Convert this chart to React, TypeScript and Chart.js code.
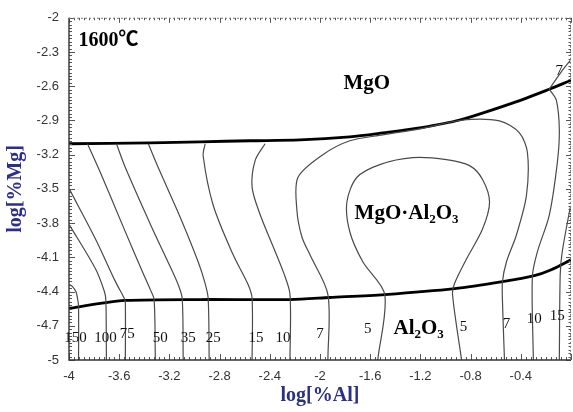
import React, { useEffect, useRef } from 'react';
import { Chart, registerables } from 'chart.js';

Chart.register(...registerables);

type Pt = [number, number];

// Axis ticks
const xTicks = [-4, -3.6, -3.2, -2.8, -2.4, -2, -1.6, -1.2, -0.8, -0.4];
const yTicks = [-5, -4.7, -4.4, -4.1, -3.8, -3.5, -3.2, -2.9, -2.6, -2.3, -2];

// Phase boundaries (thick lines)
const mgoSpinelBoundary: Pt[] = [
  [-4, -3.104], [-3.35, -3.096], [-2.955, -3.087], [-2.557, -3.078], [-2.16, -3.07],
  [-1.762, -3.043], [-1.5, -3.009], [-1.206, -2.965], [-0.888, -2.896], [-0.467, -2.748],
  [-0.173, -2.626], [0, -2.548],
];
const spinelAluminaBoundary: Pt[] = [
  [-4, -4.548], [-3.75, -4.504], [-3.551, -4.478], [-2.955, -4.47], [-2.239, -4.47],
  [-1.921, -4.452], [-1.484, -4.426], [-0.928, -4.374], [-0.546, -4.313], [-0.292, -4.261],
  [-0.157, -4.209], [0, -4.122],
];

// Iso-lines (thin lines)
const iso150: Pt[] = [[-3.996, -4.339], [-3.972, -4.357], [-3.945, -4.4], [-3.932, -4.461], [-3.924, -4.53], [-3.924, -5]];
const iso100: Pt[] = [[-3.996, -3.817], [-3.789, -4.2], [-3.718, -4.4], [-3.706, -4.48], [-3.702, -5]];
const iso75: Pt[] = [[-3.996, -3.504], [-3.789, -3.939], [-3.63, -4.313], [-3.559, -4.461], [-3.551, -4.49], [-3.551, -5]];
const iso50: Pt[] = [[-3.853, -3.104], [-3.75, -3.357], [-3.567, -3.835], [-3.408, -4.243], [-3.352, -4.383], [-3.322, -4.47], [-3.312, -5]];
const iso35: Pt[] = [[-3.622, -3.104], [-3.551, -3.313], [-3.352, -3.809], [-3.193, -4.183], [-3.13, -4.339], [-3.098, -4.461], [-3.09, -5]];
const iso25: Pt[] = [[-3.368, -3.104], [-3.289, -3.313], [-3.114, -3.748], [-2.971, -4.139], [-2.915, -4.33], [-2.891, -4.461], [-2.883, -5]];
const iso15: Pt[] = [[-2.915, -3.104], [-2.931, -3.209], [-2.851, -3.643], [-2.692, -4.078], [-2.573, -4.339], [-2.541, -4.461], [-2.541, -5]];
const iso10: Pt[] = [[-2.438, -3.104], [-2.517, -3.252], [-2.541, -3.487], [-2.478, -3.722], [-2.382, -3.983], [-2.287, -4.243], [-2.239, -4.426], [-2.239, -5]];
const iso7: Pt[] = [
  [-1.937, -5], [-1.937, -4.426], [-2.08, -4.078], [-2.144, -3.922], [-2.184, -3.687], [-2.176, -3.4],
  [-1.977, -3.2], [-1.762, -3.078], [-1.5, -3.026], [-1.206, -2.974], [-0.864, -2.896], [-0.57, -2.904],
  [-0.411, -3.009], [-0.347, -3.183], [-0.355, -3.557], [-0.435, -3.904], [-0.514, -4.139], [-0.546, -4.313],
  [-0.546, -4.487], [-0.53, -5],
];
const iso5: Pt[] = [
  [-1.54, -5], [-1.484, -4.426], [-1.659, -4.139], [-1.762, -3.878], [-1.786, -3.617], [-1.707, -3.4],
  [-1.524, -3.287], [-1.261, -3.226], [-0.992, -3.243], [-0.808, -3.296], [-0.705, -3.417], [-0.649, -3.617],
  [-0.705, -3.852], [-0.832, -4.113], [-0.928, -4.33], [-0.944, -4.426], [-0.872, -5],
];
const iso10Right: Pt[] = [[-0.173, -2.626], [-0.117, -2.722], [-0.093, -2.983], [-0.109, -3.27], [-0.173, -3.73], [-0.268, -4.052], [-0.308, -4.27], [-0.3, -5]];
const iso7Upper: Pt[] = [[-0.173, -2.626], [-0.086, -2.487], [-0.006, -2.374]];
const iso15Right: Pt[] = [[-0.006, -3.661], [-0.07, -4.052], [-0.086, -4.252], [-0.093, -5]];

const isoLines: Pt[][] = [iso150, iso100, iso75, iso50, iso35, iso25, iso15, iso10, iso7, iso5, iso10Right, iso7Upper, iso15Right];
const boundaries: Pt[][] = [mgoSpinelBoundary, spinelAluminaBoundary];

// Iso-line value labels
const isoLabelText = ['150', '100', '75', '50', '35', '25', '15', '10', '7', '5', '5', '7', '10', '15', '7'];
const isoLabelX = [-3.948, -3.71, -3.535, -3.273, -3.05, -2.851, -2.509, -2.295, -2.0, -1.619, -0.856, -0.514, -0.292, -0.109, -0.093];
const isoLabelY = [-4.809, -4.809, -4.774, -4.809, -4.809, -4.809, -4.809, -4.809, -4.774, -4.73, -4.713, -4.687, -4.643, -4.617, -2.47];

// Phase-field labels (runs with subscripts)
type Run = { t: string; sub?: boolean };
const fieldLabels: { runs: Run[]; x: number; y: number }[] = [
  { runs: [{ t: '1600℃' }], x: -3.686, y: -2.191 },
  { runs: [{ t: 'MgO' }], x: -1.627, y: -2.565 },
  { runs: [{ t: 'MgO·Al' }, { t: '2', sub: true }, { t: 'O' }, { t: '3', sub: true }], x: -1.31, y: -3.704 },
  { runs: [{ t: 'Al' }, { t: '2', sub: true }, { t: 'O' }, { t: '3', sub: true }], x: -1.214, y: -4.709 },
];

const SERIF = "'Liberation Serif', 'Times New Roman', 'Noto Sans CJK SC', serif";
const SANS = "'Liberation Sans', Arial, sans-serif";
const NAVY = '#2b2f86';

const X_MINOR = 0.04;
const Y_MINOR = 0.03;

function drawRuns(ctx: CanvasRenderingContext2D, runs: Run[], cx: number, cy: number, size: number) {
  const main = `bold ${size}px ${SERIF}`;
  const sub = `bold ${Math.round(size * 0.62)}px ${SERIF}`;
  let w = 0;
  for (const r of runs) {
    ctx.font = r.sub ? sub : main;
    w += ctx.measureText(r.t).width;
  }
  let x = cx - w / 2;
  const base = cy + size * 0.33;
  ctx.textAlign = 'left';
  ctx.textBaseline = 'alphabetic';
  for (const r of runs) {
    ctx.font = r.sub ? sub : main;
    ctx.fillText(r.t, x, r.sub ? base + size * 0.2 : base);
    x += ctx.measureText(r.t).width;
  }
}

const overlayPlugin = {
  id: 'phaseOverlay',
  afterDatasetsDraw(chart: any) {
    const { ctx, chartArea: a, scales } = chart;
    const xs = scales.x;
    const ys = scales.y;
    ctx.save();

    // inner tick marks on all four sides
    ctx.strokeStyle = '#555';
    ctx.lineWidth = 1;
    ctx.beginPath();
    const nx = Math.round(4 / X_MINOR);
    for (let i = 0; i <= nx; i++) {
      const px = Math.round(xs.getPixelForValue(-4 + i * X_MINOR)) + 0.5;
      const major = i % 10 === 0;
      ctx.moveTo(px, a.bottom);
      ctx.lineTo(px, a.bottom - (major ? 6 : 3));
      ctx.moveTo(px, a.top);
      ctx.lineTo(px, a.top + (major ? 5 : 2.5));
    }
    const ny = Math.round(3 / Y_MINOR);
    for (let i = 0; i <= ny; i++) {
      const py = Math.round(ys.getPixelForValue(-5 + i * Y_MINOR)) + 0.5;
      const major = i % 10 === 0;
      ctx.moveTo(a.left, py);
      ctx.lineTo(a.left + (major ? 6 : 3), py);
      ctx.moveTo(a.right, py);
      ctx.lineTo(a.right - (major ? 5 : 2.5), py);
    }
    ctx.stroke();

    // frame: solid left/bottom, dotted top/right
    ctx.strokeStyle = '#333';
    ctx.lineWidth = 1.4;
    ctx.beginPath();
    ctx.moveTo(a.left, a.top);
    ctx.lineTo(a.left, a.bottom);
    ctx.lineTo(a.right, a.bottom);
    ctx.stroke();
    ctx.strokeStyle = '#777';
    ctx.lineWidth = 1;
    ctx.setLineDash([2, 2]);
    ctx.beginPath();
    ctx.moveTo(a.left, a.top + 0.5);
    ctx.lineTo(a.right, a.top + 0.5);
    ctx.moveTo(a.right - 0.5, a.top);
    ctx.lineTo(a.right - 0.5, a.bottom);
    ctx.stroke();
    ctx.setLineDash([]);

    // iso-line values
    ctx.fillStyle = '#111';
    ctx.font = `15px ${SERIF}`;
    ctx.textAlign = 'center';
    ctx.textBaseline = 'middle';
    isoLabelText.forEach((t, i) => {
      ctx.fillText(t, xs.getPixelForValue(isoLabelX[i]), ys.getPixelForValue(isoLabelY[i]));
    });

    // phase fields
    ctx.fillStyle = '#000';
    fieldLabels.forEach((f, i) => {
      drawRuns(ctx, f.runs, xs.getPixelForValue(f.x), ys.getPixelForValue(f.y), i === 0 ? 20 : 21);
    });
    ctx.restore();
  },
};

export default function App() {
  const ref = useRef<HTMLCanvasElement | null>(null);

  useEffect(() => {
    if (!ref.current) return;
    const lineDs = (pts: Pt[], thick: boolean) => ({
      data: pts.map(([x, y]) => ({ x, y })),
      showLine: true,
      borderColor: thick ? '#000' : '#4a4a4a',
      borderWidth: thick ? 2.8 : 1.2,
      pointRadius: 0,
      tension: 0.3,
      fill: false,
    });
    const datasets = [
      ...isoLines.map((p) => lineDs(p, false)),
      ...boundaries.map((p) => lineDs(p, true)),
    ];

    const chart = new Chart(ref.current, {
      type: 'scatter',
      data: { datasets },
      options: {
        responsive: false,
        animation: false,
        events: [],
        layout: { padding: { top: 14, right: 2, left: 0, bottom: 0 } },
        plugins: { legend: { display: false }, tooltip: { enabled: false } },
        scales: {
          x: {
            type: 'linear',
            min: -4,
            max: 0,
            afterBuildTicks: (s: any) => {
              s.ticks = xTicks.map((value) => ({ value }));
            },
            afterFit: (s: any) => {
              s.height = 52;
            },
            grid: { display: false, drawTicks: false },
            border: { display: false },
            ticks: {
              autoSkip: false,
              maxRotation: 0,
              padding: 9,
              color: '#333',
              font: { family: SANS, size: 13 },
              callback: (v: any) => String(v),
            },
            title: {
              display: true,
              text: 'log[%Al]',
              color: NAVY,
              font: { family: SERIF, size: 20, weight: 'bold' },
              padding: { top: 0, bottom: 4 },
            },
          },
          y: {
            type: 'linear',
            min: -5,
            max: -2,
            afterBuildTicks: (s: any) => {
              s.ticks = yTicks.map((value) => ({ value }));
            },
            afterFit: (s: any) => {
              s.width = 69;
            },
            grid: { display: false, drawTicks: false },
            border: { display: false },
            ticks: {
              autoSkip: false,
              padding: 10,
              color: '#333',
              font: { family: SANS, size: 13 },
              callback: (v: any) => String(v),
            },
            title: {
              display: true,
              text: 'log[%Mg]',
              color: NAVY,
              font: { family: SERIF, size: 20, weight: 'bold' },
              padding: { top: 4, bottom: 0 },
            },
          },
        },
      } as any,
      plugins: [overlayPlugin],
    });
    return () => chart.destroy();
  }, []);

  return (
    <div style={{ position: 'fixed', left: 0, top: 0, width: 573, height: 412, background: '#fff' }}>
      <canvas ref={ref} width={573} height={412} style={{ width: 573, height: 412, display: 'block' }} />
    </div>
  );
}
